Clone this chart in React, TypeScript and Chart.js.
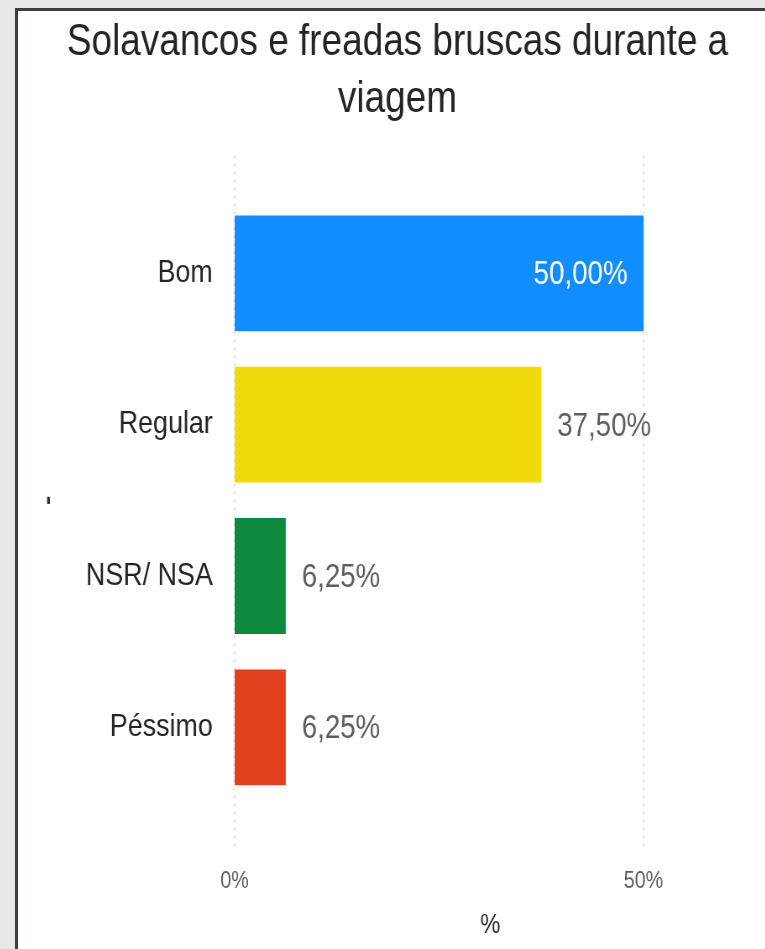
import React, { useEffect, useRef } from "react";
import { Chart, registerables } from "chart.js";

Chart.register(...registerables);

const chartTitle = ["Solavancos e freadas bruscas durante a", "viagem"];
const categories = ["Bom", "Regular", "NSR/ NSA", "Péssimo"];
const values = [50, 37.5, 6.25, 6.25];
const barColors = ["#118DFF", "#F0DA0A", "#0E8A3E", "#E2401E"];
const xTickValues = [0, 50];
const xAxisTitle = "%";
const yAxisTitle = "-";

const FONT = "'Liberation Sans', Arial, sans-serif";

// the source visual is rendered with a horizontally condensed look:
// the canvas is drawn wider and displayed squeezed to this factor
const SQUEEZE = 0.84;
const DISPLAY_W = 759;
const DISPLAY_H = 938;
const CANVAS_W = Math.round(DISPLAY_W / SQUEEZE);

const fmt = (v: number) => v.toFixed(2).replace(".", ",") + "%";

const gridPlugin = {
  id: "extendedGrid",
  beforeDatasetsDraw(chart: any) {
    const { ctx, chartArea, scales } = chart;
    const x = scales.x;
    ctx.save();
    ctx.strokeStyle = "#c4c4c4";
    ctx.lineWidth = 1.3;
    ctx.setLineDash([2, 6]);
    for (const t of x.ticks) {
      const px = x.getPixelForValue(t.value);
      ctx.beginPath();
      ctx.moveTo(px, chartArea.top - 42);
      ctx.lineTo(px, chartArea.bottom + 47);
      ctx.stroke();
    }
    ctx.restore();
  },
};

const labelPlugin = {
  id: "valueLabels",
  afterDatasetsDraw(chart: any) {
    const { ctx, chartArea } = chart;
    const meta = chart.getDatasetMeta(0);
    ctx.save();
    ctx.font = `33px ${FONT}`;
    ctx.textBaseline = "middle";
    meta.data.forEach((bar: any, i: number) => {
      const text = fmt(values[i]);
      const w = ctx.measureText(text).width;
      const outsideX = bar.x + 19;
      if (outsideX + w > chartArea.right + 17) {
        ctx.fillStyle = "#ffffff";
        ctx.textAlign = "right";
        ctx.fillText(text, bar.x - 19, bar.y + 2);
      } else {
        ctx.fillStyle = "#605E5C";
        ctx.textAlign = "left";
        ctx.fillText(text, outsideX, bar.y + 2);
      }
    });
    // x axis title
    ctx.font = `27px ${FONT}`;
    ctx.fillStyle = "#252423";
    ctx.textAlign = "center";
    ctx.fillText(xAxisTitle, (chartArea.left + chartArea.right) / 2 + 61, chart.height - 23);
    ctx.restore();
  },
};

export default function App() {
  const ref = useRef<HTMLCanvasElement | null>(null);

  useEffect(() => {
    if (!ref.current) return;
    Chart.defaults.font.family = FONT;
    const chart = new Chart(ref.current, {
      type: "bar",
      data: {
        labels: categories,
        datasets: [
          {
            data: values,
            backgroundColor: barColors,
            borderWidth: 0,
            barPercentage: 0.765,
            categoryPercentage: 1,
          },
        ],
      },
      options: {
        indexAxis: "y",
        animation: false,
        responsive: false,
        devicePixelRatio: 1,
        layout: { padding: 0 },
        plugins: {
          legend: { display: false },
          tooltip: { enabled: false },
          title: {
            display: true,
            text: chartTitle,
            color: "#252423",
            font: { size: 44, weight: "normal", lineHeight: 1.28 },
            padding: { top: 4, bottom: 70 },
          },
        },
        scales: {
          x: {
            type: "linear",
            min: 0,
            max: 50,
            afterBuildTicks: (s: any) => {
              s.ticks = xTickValues.map((v) => ({ value: v }));
            },
            afterFit: (s: any) => {
              s.height = 146;
            },
            grid: { display: false, drawTicks: false },
            border: { display: false },
            ticks: {
              padding: 64,
              color: "#605E5C",
              font: { size: 23.5 },
              callback: (v: any) => v + "%",
            },
          },
          y: {
            type: "category",
            afterFit: (s: any) => {
              s.width = 258;
            },
            grid: { display: false, drawTicks: false },
            border: { display: false },
            ticks: {
              padding: 26,
              color: "#252423",
              font: { size: 32 },
            },
            title: {
              display: true,
              text: yAxisTitle,
              color: "#333333",
              font: { size: 28, weight: "bold" },
              padding: { top: 19, bottom: 0 },
            },
          },
          yRight: {
            type: "category",
            position: "right",
            afterFit: (s: any) => {
              s.width = CANVAS_W - 745;
            },
            grid: { display: false, drawTicks: false },
            border: { display: false },
            ticks: { display: false },
          },
        },
      },
      plugins: [gridPlugin, labelPlugin],
    });
    return () => chart.destroy();
  }, []);

  return (
    <div
      style={{
        position: "fixed",
        left: 0,
        top: 0,
        width: 765,
        height: 949,
        overflow: "hidden",
        background: "#e8e8e8",
      }}
    >
      <div
        style={{
          position: "absolute",
          left: 15,
          top: 8,
          width: 800,
          height: 1000,
          borderLeft: "3px solid #3b4139",
          borderTop: "3px solid #3b4139",
          background: "#ffffff",
        }}
      >
        <canvas
          ref={ref}
          width={CANVAS_W}
          height={DISPLAY_H}
          style={{ position: "absolute", left: 0, top: 0, width: DISPLAY_W, height: DISPLAY_H }}
        />
      </div>
    </div>
  );
}
